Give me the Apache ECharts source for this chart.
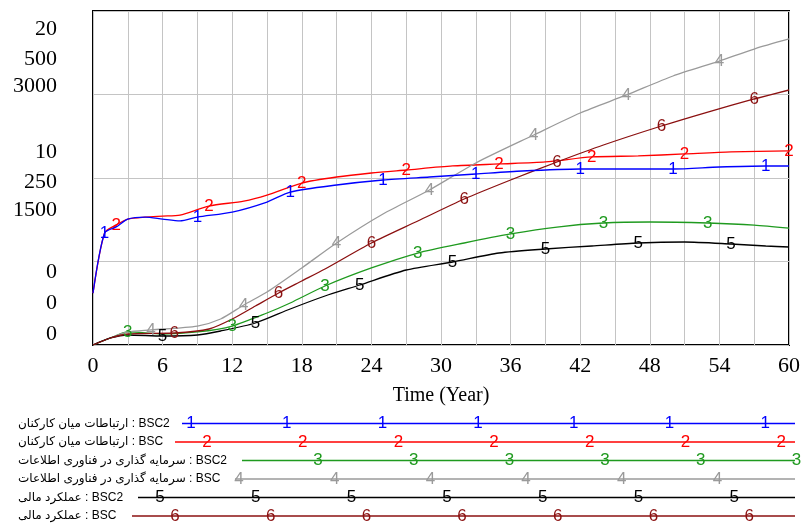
<!DOCTYPE html>
<html><head><meta charset="utf-8">
<script src="https://cdn.jsdelivr.net/npm/echarts@6/dist/echarts.min.js"></script>
<style>html,body{margin:0;padding:0;background:#fff}#c{width:803px;height:525px}</style>
</head><body><div id="c"></div>
<script>
// ---- data ----
const seriesNames = [
  'ارتباطات میان کارکنان : BSC2',
  'ارتباطات میان کارکنان : BSC',
  'سرمایه گذاری در فناوری اطلاعات : BSC2',
  'سرمایه گذاری در فناوری اطلاعات : BSC',
  'عملکرد مالی : BSC2',
  'عملکرد مالی : BSC'
];
const xTickLabels = [0, 6, 12, 18, 24, 30, 36, 42, 48, 54, 60];
const scaleA = [0, 10, 20];      // series 1,2
const scaleB = [0, 250, 500];    // series 3,4
const scaleC = [0, 1500, 3000];  // series 5,6

const s1T = [0,1,2,3,4.5,6,7.5,9,12,15,17,21,25,29,33,37,42,46,50,54,58,60];
const s1V = [3.11,6.71,7.07,7.54,7.66,7.54,7.43,7.66,7.96,8.56,9.16,9.58,9.88,10.06,10.24,10.42,10.54,10.54,10.54,10.66,10.72,10.72];
const s1M = [1,9,17,25,33,42,50,58];

const s2T = [0,1,2,3,4.5,6,7.5,10,13,15,18,21,24,27,31,35,39,43,47,51,55,60];
const s2V = [3.11,6.71,7.19,7.54,7.66,7.72,7.78,8.32,8.62,8.98,9.70,10.06,10.30,10.48,10.72,10.84,10.96,11.26,11.32,11.44,11.56,11.62];
const s2M = [2,10,18,27,35,43,51,60];

const s3T = [0,1.5,3,6,9,12,15,17,20,24,28,32,36,40,44,48,53,57,60];
const s3V = [0,10.5,19.5,16.5,19.5,28.4,47.9,62.9,88.3,115.3,137.7,152.7,166.2,176.6,182.6,184.1,182.6,179.6,175.1];
const s3M = [3,12,20,28,36,44,53];

const s4T = [0,1.5,3,5,9,11,13,15,18,21,25,29,33,38,42,46,50,54,57,60];
const s4V = [0,10.5,19.5,22.5,28.4,38.9,59.9,79.3,115.3,152.7,196.1,232.0,272.5,314.4,347.3,374.3,402.7,425.1,443.1,458.1];
const s4M = [5,13,21,29,38,46,54];

const s5T = [0,1.5,3,6,9,11,14,17,20,23,27,31,35,39,43,47,51,55,58,60];
const s5V = [0,62.9,89.8,80.8,89.8,125.7,197.6,323.4,440.1,538.9,673.7,745.5,826.3,862.3,889.2,916.2,925.1,907.2,889.2,880.2];
const s5M = [6,14,23,31,39,47,55];

const s6T = [0,1.5,3,7,10,12,14,16,18,20,24,28,32,36,40,44,49,53,57,60];
const s6V = [0,62.9,98.8,107.8,143.7,233.5,350.3,467.1,574.8,682.6,916.2,1113.8,1311.4,1482.0,1643.7,1796.4,1967.1,2092.8,2209.6,2290.4];
const s6M = [7,16,24,32,40,49,57];

// ---- styling ----
const colors = ['#0000ff', '#ff0000', '#1f9a1f', '#9a9a9a', '#000000', '#8b1010'];
const serif = '"Liberation Serif","Times New Roman",serif';
const sans = '"Liberation Sans","DejaVu Sans",Arial,sans-serif';

const allT = [s1T,s2T,s3T,s4T,s5T,s6T];
const allV = [s1V,s2V,s3V,s4V,s5V,s6V];
const allM = [s1M,s2M,s3M,s4M,s5M,s6M];
const axisOf = [0,0,1,1,2,2];

function shift(d) { return d >= 0 ? { padding: [2*d,0,0,0] } : { padding: [0,0,-2*d,0] }; }
function yAxisDef(scale, offs, showSplit) {
  const max = scale[2];
  const rich = { b: shift(offs[0]), m: shift(offs[1]), t: shift(offs[2]) };
  return {
    type: 'value', min: 0, max: max, interval: max / 4, position: 'left', offset: 0,
    axisLine: { show: false }, axisTick: { show: false },
    splitLine: { show: showSplit, lineStyle: { color: '#c4c4c4', width: 1 } },
    axisLabel: {
      margin: 36, color: '#000', fontFamily: serif, fontSize: 22,
      formatter: function (v) {
        if (v === scale[0]) return '{b|' + v + '}';
        if (v === scale[1]) return '{m|' + v + '}';
        if (v === scale[2]) return '{t|' + v + '}';
        return '';
      },
      rich: rich
    }
  };
}

const series = allT.map(function (ts, i) {
  return {
    name: seriesNames[i], type: 'line', yAxisIndex: axisOf[i],
    z: i === 0 ? 4 : 3,
    symbol: 'circle', symbolSize: 0, showSymbol: true, smooth: 0.25,
    lineStyle: { color: colors[i], width: 1.3 },
    itemStyle: { color: colors[i] },
    emphasis: { disabled: true },
    label: { show: false },
    data: ts.map(function (t, k) {
      const item = { value: [t, allV[i][k]] };
      if (allM[i].indexOf(t) >= 0) {
        item.label = { show: true, position: 'inside', formatter: String(i + 1),
          color: colors[i], fontFamily: sans, fontSize: 17 };
      }
      return item;
    })
  };
});

// ---- legend drawn below the plot ----
const legStartX = [182, 175, 242, 235, 138, 132];
const legFirstMark = [191, 207, 318, 239, 160, 175];
const graphics = [];
seriesNames.forEach(function (nm, i) {
  const y = 423.5 + i * 18.5;
  graphics.push({ type: 'text', x: 18, y: y, style: { text: nm, fill: '#000', font: '12px ' + sans, align: 'left', verticalAlign: 'middle' } });
  graphics.push({ type: 'line', shape: { x1: legStartX[i], y1: y, x2: 795, y2: y }, style: { stroke: colors[i], lineWidth: 1.3 } });
  for (let x = legFirstMark[i]; x <= 797; x += 95.7) {
    graphics.push({ type: 'text', x: x, y: y, style: { text: String(i + 1), fill: colors[i], font: '17px ' + sans, align: 'center', verticalAlign: 'middle' } });
  }
});

const chart = echarts.init(document.getElementById('c'), null, { renderer: 'canvas' });
chart.setOption({
  animation: false,
  backgroundColor: '#fff',
  grid: { left: 93, top: 11, width: 699, height: 334, show: true, borderColor: '#000', borderWidth: 2, backgroundColor: 'transparent' },
  xAxis: {
    type: 'value', min: 0, max: 60, interval: 3,
    name: 'Time (Year)', nameLocation: 'middle', nameGap: 41,
    nameTextStyle: { color: '#000', fontFamily: serif, fontSize: 20 },
    axisLine: { show: false }, axisTick: { show: false },
    splitLine: { show: true, lineStyle: { color: '#c4c4c4', width: 1 } },
    axisLabel: { margin: 10, color: '#000', fontFamily: serif, fontSize: 22,
      formatter: function (v) { return xTickLabels.indexOf(v) >= 0 ? String(v) : ''; } }
  },
  yAxis: [
    yAxisDef(scaleA, [-73, -26, 18], true),
    yAxisDef(scaleB, [-42, 4, 48], false),
    yAxisDef(scaleC, [-11, 32, 75], false)
  ],
  series: series,
  graphic: graphics
});
</script></body></html>
